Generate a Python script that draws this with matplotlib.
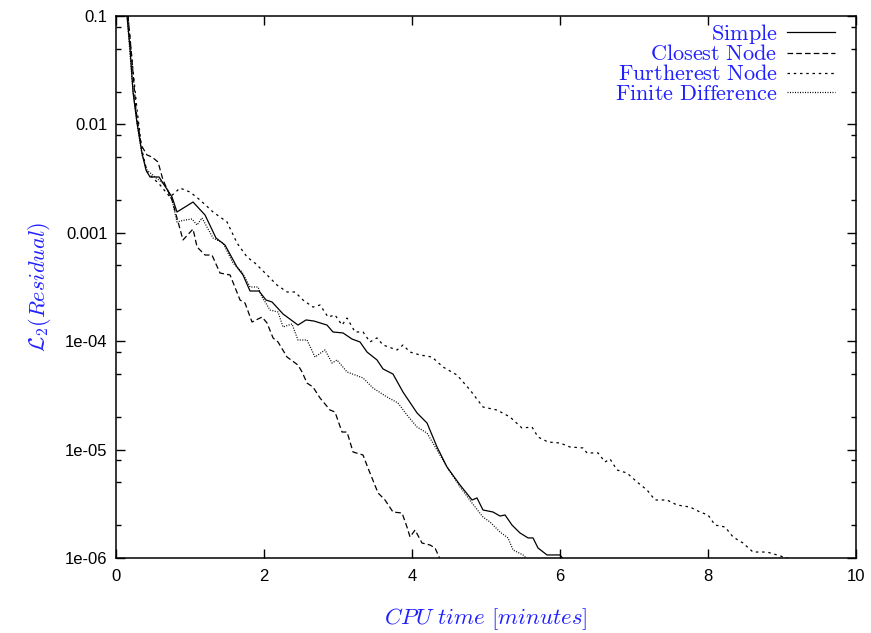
import numpy as np
import matplotlib
matplotlib.use('Agg')
import matplotlib.pyplot as plt
from matplotlib.ticker import FixedLocator, NullFormatter

plt.rcParams['mathtext.fontset'] = 'cm'
plt.rcParams['font.family'] = ['Liberation Sans', 'DejaVu Sans']

# CPU time [minutes] and log10 of the L2 residual
simple_t = [0.149, 0.189, 0.230, 0.284, 0.351, 0.405, 0.459, 0.581, 0.757, 0.824,
            1.041, 1.203, 1.351, 1.473, 1.635, 1.716, 1.811, 1.932, 2.027, 2.108,
            2.257, 2.459, 2.568, 2.676, 2.851, 2.932, 3.068, 3.189, 3.297, 3.392,
            3.527, 3.608, 3.743, 3.878, 4.068, 4.203, 4.338, 4.473, 4.649, 4.811,
            4.878, 4.959, 5.095, 5.189, 5.257, 5.351, 5.459, 5.568, 5.635, 5.703,
            5.824, 6.000, 6.041]
simple_r = [-1.000, -1.295, -1.701, -1.987, -2.264, -2.421, -2.485, -2.485, -2.670, -2.808,
            -2.716, -2.836, -3.048, -3.113, -3.316, -3.389, -3.537, -3.537, -3.620, -3.638,
            -3.749, -3.851, -3.804, -3.814, -3.851, -3.915, -3.924, -3.980, -4.007, -4.100,
            -4.173, -4.256, -4.303, -4.469, -4.662, -4.755, -4.976, -5.161, -5.327, -5.465,
            -5.446, -5.557, -5.576, -5.613, -5.603, -5.696, -5.769, -5.815, -5.815, -5.908,
            -5.972, -5.972, -6.009]

closest_t = [0.162, 0.216, 0.270, 0.338, 0.419, 0.486, 0.568, 0.635, 0.757, 0.905,
             1.041, 1.095, 1.203, 1.297, 1.405, 1.541, 1.676, 1.743, 1.838, 1.973,
             2.041, 2.122, 2.189, 2.311, 2.459, 2.514, 2.581, 2.662, 2.757, 2.892,
             2.959, 3.054, 3.122, 3.203, 3.338, 3.405, 3.541, 3.635, 3.743, 3.865,
             3.932, 3.973, 4.041, 4.135, 4.243, 4.311, 4.378]
closest_r = [-1.000, -1.406, -1.867, -2.190, -2.282, -2.301, -2.347, -2.513, -2.697, -3.066,
             -2.965, -3.131, -3.205, -3.205, -3.371, -3.389, -3.620, -3.648, -3.823, -3.777,
             -3.832, -3.970, -4.007, -4.146, -4.220, -4.284, -4.386, -4.423, -4.524, -4.635,
             -4.653, -4.838, -4.838, -5.022, -5.050, -5.170, -5.400, -5.465, -5.576, -5.585,
             -5.714, -5.806, -5.742, -5.862, -5.880, -5.908, -6.009]

further_t = [0.162, 0.216, 0.284, 0.351, 0.419, 0.595, 0.730, 0.865, 1.000, 1.135,
             1.311, 1.500, 1.635, 1.770, 1.878, 2.041, 2.176, 2.311, 2.419, 2.527,
             2.662, 2.757, 2.865, 2.959, 3.054, 3.122, 3.230, 3.338, 3.432, 3.527,
             3.608, 3.797, 3.878, 3.973, 4.108, 4.270, 4.419, 4.608, 4.784, 4.959,
             5.149, 5.324, 5.486, 5.622, 5.703, 5.838, 6.000, 6.135, 6.311, 6.365,
             6.514, 6.608, 6.676, 6.770, 6.905, 7.041, 7.176, 7.284, 7.446, 7.581,
             7.757, 7.892, 8.000, 8.095, 8.230, 8.338, 8.473, 8.608, 8.797, 8.932,
             9.108]
further_r = [-1.000, -1.406, -1.867, -2.236, -2.439, -2.559, -2.670, -2.587, -2.624, -2.697,
             -2.808, -2.900, -3.094, -3.223, -3.279, -3.389, -3.482, -3.546, -3.546, -3.620,
             -3.685, -3.666, -3.777, -3.758, -3.851, -3.786, -3.915, -3.915, -4.007, -3.970,
             -4.035, -4.081, -4.035, -4.100, -4.127, -4.146, -4.238, -4.312, -4.450, -4.607,
             -4.635, -4.699, -4.801, -4.792, -4.884, -4.930, -4.939, -4.976, -4.985, -5.031,
             -5.031, -5.114, -5.087, -5.188, -5.216, -5.299, -5.373, -5.465, -5.465, -5.511,
             -5.530, -5.576, -5.603, -5.696, -5.714, -5.806, -5.862, -5.945, -5.945, -5.972,
             -6.009]

fd_t = [0.149, 0.230, 0.284, 0.351, 0.419, 0.527, 0.662, 0.757, 0.824, 0.932,
        1.027, 1.095, 1.162, 1.311, 1.446, 1.581, 1.703, 1.811, 1.919, 1.973,
        2.081, 2.189, 2.257, 2.378, 2.459, 2.581, 2.689, 2.824, 2.919, 2.986,
        3.122, 3.338, 3.473, 3.662, 3.811, 3.932, 4.068, 4.203, 4.338, 4.473,
        4.649, 4.811, 4.959, 5.054, 5.189, 5.297, 5.365, 5.500, 5.554]
fd_r = [-1.000, -1.701, -1.987, -2.282, -2.421, -2.485, -2.559, -2.697, -2.900, -2.882,
        -2.873, -2.928, -2.863, -3.048, -3.094, -3.279, -3.362, -3.500, -3.500, -3.592,
        -3.712, -3.731, -3.869, -3.841, -3.989, -3.989, -4.146, -4.081, -4.201, -4.173,
        -4.284, -4.339, -4.432, -4.515, -4.570, -4.681, -4.792, -4.847, -5.004, -5.161,
        -5.345, -5.493, -5.622, -5.668, -5.760, -5.815, -5.926, -5.972, -6.009]

labels = ['Simple', 'Closest Node', 'Furtherest Node', 'Finite Difference']
yticks = [1e-1, 1e-2, 1e-3, 1e-4, 1e-5, 1e-6]
ytick_labels = ['0.1', '0.01', '0.001', '1e-04', '1e-05', '1e-06']
xticks = [0, 2, 4, 6, 8, 10]

fig = plt.figure(figsize=(8.71, 6.33), dpi=100)
ax = fig.add_axes([0.1332, 0.1185, 0.8496, 0.8562])

series = [(simple_t, simple_r, '-'),
          (closest_t, closest_r, (0, (4.5, 2.5))),
          (further_t, further_r, (0, (2, 3))),
          (fd_t, fd_r, (0, (0.8, 1.2)))]
for (t, r, ls), lab in zip(series, labels):
    ax.plot(t, 10 ** np.array(r), color='black', lw=0.9, linestyle=ls,
            label=r'$\mathrm{' + lab.replace(' ', r'\ ') + '}$')

ax.set_yscale('log')
ax.set_xlim(0, 10)
ax.set_ylim(1e-6, 1e-1)
ax.set_yticks(yticks)
ax.set_yticklabels(ytick_labels)
minor = [m * 10.0 ** k for k in range(-6, -1) for m in (2, 5, 8)]
ax.yaxis.set_minor_locator(FixedLocator(minor))
ax.yaxis.set_minor_formatter(NullFormatter())
ax.set_xticks(xticks)
ax.set_xticklabels([str(v) for v in xticks])
ax.tick_params(which='both', direction='in', top=True, right=True,
               labelsize=12, width=1)
ax.tick_params(axis='x', pad=8)
ax.tick_params(axis='y', pad=6)
ax.tick_params(which='major', length=6.5)
ax.tick_params(which='minor', length=3.5)
for s in ax.spines.values():
    s.set_linewidth(1.1)

ax.set_xlabel(r'$CPU\ time\ [minutes]$', color='#2020ff', fontsize=16.5, labelpad=16)
ax.set_ylabel(r'$\mathcal{L}_2(Residual)$', color='#2020ff', fontsize=16, labelpad=9)

leg = ax.legend(loc='upper right', bbox_to_anchor=(0.9932, 1.0185),
                frameon=False, markerfirst=False,
                fontsize=16, handlelength=2.2, handletextpad=0.4,
                labelspacing=-0.05, borderaxespad=0.5, borderpad=0.2)
for txt in leg.get_texts():
    txt.set_color('#2020ff')

fig.savefig('out.png', dpi=100)
